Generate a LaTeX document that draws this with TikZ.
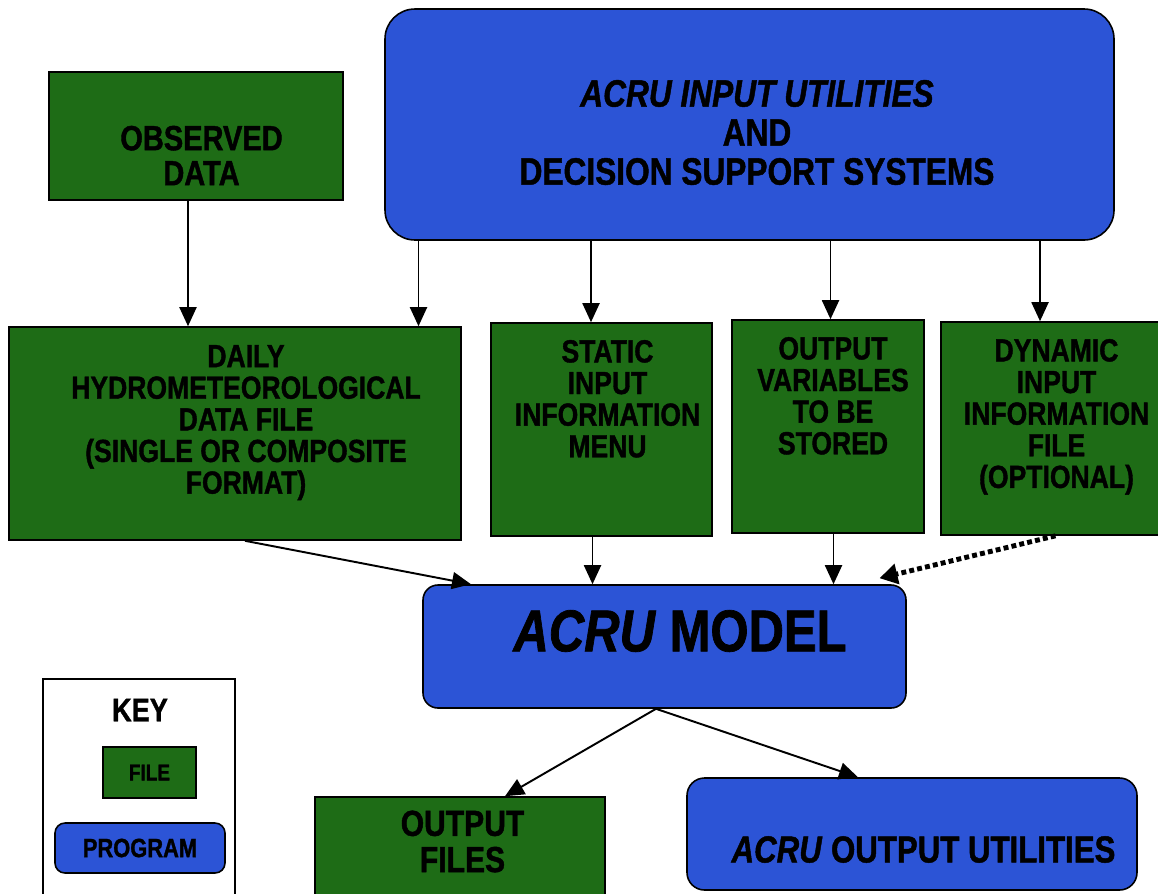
\documentclass[tikz,border=0pt]{standalone}
\usepackage{fontspec}
\setmainfont{Liberation Sans}[FakeStretch=0.83,BoldFeatures={FakeBold=1.2},BoldItalicFeatures={FakeBold=1.2}]
\usetikzlibrary{arrows.meta}
\definecolor{filegreen}{RGB}{30,108,22}
\definecolor{progblue}{RGB}{44,84,214}
\tikzset{
  filebox/.style={draw=black,line width=0.9pt,fill=filegreen,inner sep=0pt},
  progbox/.style={draw=black,line width=0.9pt,fill=progblue,inner sep=0pt},
  lbl/.style={align=center,inner sep=0pt,text=black},
  smalltxt/.style={lbl,font=\bfseries\fontsize{18.2}{18}\selectfont},
  arr/.style={line width=1.1pt,-{Triangle[length=0.38cm,width=0.34cm]}},
  dotarr/.style={line width=2.8pt,dash pattern=on 2.8pt off 1.8pt,-{Triangle[length=0.36cm,width=0.4cm]}}
}
\begin{document}
\begin{tikzpicture}
\useasboundingbox (0,0) rectangle (23.16,-17.86);
\fill[white] (0,0) rectangle (23.16,-17.86);

% helper x positions for connectors
\coordinate (xa) at (3.76,0);
\coordinate (xb) at (8.37,0);
\coordinate (xc) at (11.82,0);
\coordinate (xd) at (16.61,0);
\coordinate (xe) at (20.80,0);
\coordinate (xf) at (11.85,0);
\coordinate (xg) at (16.67,0);
\coordinate (xh) at (4.90,0);
\coordinate (xi) at (9.42,0);
\coordinate (xj) at (21.11,0);
\coordinate (xk) at (17.59,0);
\coordinate (xs) at (13.12,0);
\coordinate (xo) at (10.10,0);
\coordinate (xu) at (17.16,0);

% key
\node[draw=black,line width=0.9pt,fill=white,minimum width=3.84cm,minimum height=4.52cm] (key) at (2.78,-15.84) {};
\node[lbl,font=\bfseries\fontsize{18.6}{19}\selectfont] (keyT) at (2.80,-14.20) {KEY};
\node[filebox,minimum width=1.86cm,minimum height=1.02cm] (keyfile) at (2.99,-15.45) {};
\node[lbl,font=\bfseries\fontsize{13}{14}\selectfont] (keyfileT) at (keyfile.center) {FILE};
\node[progbox,rounded corners=0.2cm,minimum width=3.4cm,minimum height=1.0cm] (keyprog) at (2.80,-16.96) {};
\node[lbl,font=\bfseries\fontsize{15}{15}\selectfont] (keyprogT) at (keyprog.center) {PROGRAM};

% top row
\node[filebox,minimum width=5.88cm,minimum height=2.56cm] (obs) at (3.92,-2.72) {};
\node[lbl,font=\bfseries\fontsize{19.9}{19.9}\selectfont] (obsT) at ([xshift=0.11cm,yshift=-0.39cm]obs.center) {OBSERVED\\DATA};

\node[progbox,rounded corners=0.6cm,minimum width=14.58cm,minimum height=4.62cm] (ui) at (14.99,-2.49) {};
\node[lbl,font=\bfseries\fontsize{21.7}{22.2}\selectfont] (uiT) at ([xshift=0.15cm,yshift=-0.16cm]ui.center) {\textit{ACRU INPUT UTILITIES}\\AND\\DECISION SUPPORT SYSTEMS};

% middle row
\node[filebox,minimum width=9.04cm,minimum height=4.26cm] (daily) at (4.70,-8.67) {};
\node[smalltxt,anchor=north] (dailyT) at ([xshift=0.22cm,yshift=-0.37cm]daily.north) {DAILY\\HYDROMETEOROLOGICAL\\DATA FILE\\(SINGLE OR COMPOSITE\\FORMAT)};

\node[filebox,minimum width=4.42cm,minimum height=4.26cm] (static) at (12.03,-8.59) {};
\node[smalltxt,anchor=north] (staticT) at ([xshift=0.12cm,yshift=-0.35cm]static.north) {STATIC\\INPUT\\INFORMATION\\MENU};

\node[filebox,minimum width=3.84cm,minimum height=4.26cm] (outvar) at (16.56,-8.53) {};
\node[smalltxt,anchor=north] (outvarT) at ([xshift=0.1cm,yshift=-0.35cm]outvar.north) {OUTPUT\\VARIABLES\\TO BE\\STORED};

\node[filebox,minimum width=4.58cm,minimum height=4.26cm] (dyn) at (21.11,-8.57) {};
\node[smalltxt,anchor=north] (dynT) at ([xshift=0.02cm,yshift=-0.35cm]dyn.north) {DYNAMIC\\INPUT\\INFORMATION\\FILE\\(OPTIONAL)};

% model
\node[progbox,rounded corners=0.3cm,minimum width=9.66cm,minimum height=2.46cm] (model) at (13.29,-12.93) {};
\node[lbl,font=\bfseries\fontsize{33.6}{35}\selectfont] (modelT) at ([xshift=0.31cm,yshift=0.31cm]model.center) {\textit{ACRU} MODEL};

% bottom row
\node[filebox,minimum width=5.8cm,minimum height=2.16cm] (outfiles) at (9.20,-17.02) {};
\node[lbl,anchor=north,font=\bfseries\fontsize{20.6}{20.6}\selectfont] (outfilesT) at ([xshift=0.05cm,yshift=-0.28cm]outfiles.north) {OUTPUT\\FILES};

\node[progbox,rounded corners=0.35cm,minimum width=9.0cm,minimum height=2.24cm] (oututil) at (18.24,-16.68) {};
\node[lbl,font=\bfseries\fontsize{21.4}{22}\selectfont] (oututilT) at ([xshift=0.23cm,yshift=-0.31cm]oututil.center) {\textit{ACRU} OUTPUT UTILITIES};

% connectors
\draw[arr] (obs.south -| xa) -- (daily.north -| xa);
\draw[arr] (ui.south -| xb) -- (daily.north -| xb);
\draw[arr] (ui.south -| xc) -- (static.north -| xc);
\draw[arr] (ui.south -| xd) -- (outvar.north -| xd);
\draw[arr] (ui.south -| xe) -- (dyn.north -| xe);
\draw[arr] (daily.south -| xh) -- (model.north -| xi);
\draw[arr] (static.south -| xf) -- (model.north -| xf);
\draw[arr] (outvar.south -| xg) -- (model.north -| xg);
\draw[dotarr] (dyn.south -| xj) -- ([yshift=0.12cm]model.north -| xk);
\draw[arr] (model.south -| xs) -- (outfiles.north -| xo);
\draw[arr] (model.south -| xs) -- (oututil.north -| xu);
\end{tikzpicture}
\end{document}
